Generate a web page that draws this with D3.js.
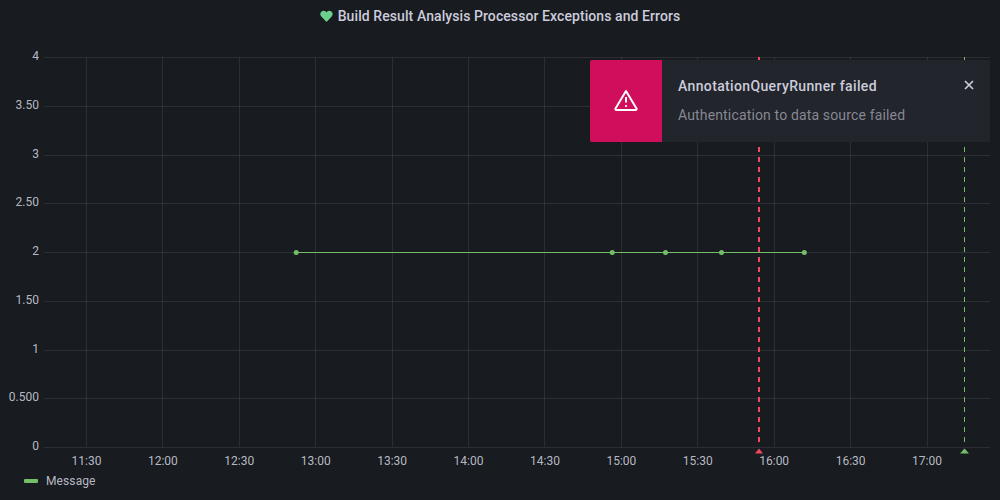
<!DOCTYPE html>
<html><head><meta charset="utf-8">
<script src="https://cdn.jsdelivr.net/npm/d3@7"></script>
<style>
html,body{margin:0;padding:0;background:#181b1f;overflow:hidden}
svg{display:block;font-family:Roboto,sans-serif}
</style></head><body>
<svg id="c" width="1000" height="500"></svg>
<script>
const chartTitle = "Build Result Analysis Processor Exceptions and Errors";
const seriesName = "Message";
const yTicks = [0, 0.5, 1, 1.5, 2, 2.5, 3, 3.5, 4];
const yTickLabels = ["0", "0.500", "1", "1.50", "2", "2.50", "3", "3.50", "4"];
const xTickTimes = ["11:30","12:00","12:30","13:00","13:30","14:00","14:30","15:00","15:30","16:00","16:30","17:00"];
const seriesTimes = ["12:52:20","14:56:25","15:17:20","15:39:20","16:11:50"];
const seriesValues = [2, 2, 2, 2, 2];
const annotationTimes = ["15:54:10","17:14:40"];
const annotationColors = ["#f2495c","#73bf69"];
const toastTitle = "AnnotationQueryRunner failed";
const toastText = "Authentication to data source failed";

const parse = s => { const p = s.split(":").map(Number); return new Date(2021,0,1,p[0],p[1],p[2]||0); };
const svg = d3.select("#c");
const x = d3.scaleTime().domain([parse("11:30"),parse("17:00")]).range([86.5,927]);
const y = d3.scaleLinear().domain([0,4]).range([447.5,57.5]);
const L = 44, R = 990;

svg.append("text").attr("x",509).attr("y",21).attr("text-anchor","middle")
  .attr("font-size",14).attr("font-weight",500).attr("letter-spacing",0.08).attr("fill","#ccccdc").text(chartTitle);
svg.append("path").attr("transform","translate(326.5,16)")
  .attr("d","M0,6 L-5.2,0.6 C-7.4,-2 -5.6,-5.2 -2.8,-5.2 C-1.4,-5.2 -0.5,-4.4 0,-3.5 C0.5,-4.4 1.4,-5.2 2.8,-5.2 C5.6,-5.2 7.4,-2 5.2,0.6 Z")
  .attr("fill","#6ccf8e");

const grid = svg.append("g").attr("stroke","#f0faff").attr("stroke-opacity",0.09).attr("shape-rendering","crispEdges");
grid.selectAll("line.y").data(yTicks).join("line").attr("x1",L).attr("x2",R)
  .attr("y1",d=>y(d)).attr("y2",d=>y(d));
grid.selectAll("line.x").data(xTickTimes).join("line").attr("y1",57).attr("y2",447)
  .attr("x1",d=>x(parse(d))).attr("x2",d=>x(parse(d)));

const tc = "#ccccdc", to = 0.9;
svg.append("g").selectAll("text").data(yTicks).join("text")
  .attr("x",39).attr("y",d=>y(d)+2.5).attr("text-anchor","end").attr("font-size",12)
  .attr("fill",tc).attr("fill-opacity",to).text((d,i)=>yTickLabels[i]);
svg.append("g").selectAll("text").data(xTickTimes).join("text")
  .attr("x",d=>x(parse(d))).attr("y",465).attr("text-anchor","middle").attr("font-size",12)
  .attr("fill",tc).attr("fill-opacity",to).text(d=>d);

const pts = seriesTimes.map((t,i)=>[parse(t),seriesValues[i]]);
svg.append("path").attr("fill","none").attr("stroke","#73bf69").attr("stroke-width",1)
  .attr("d",d3.line().x(d=>x(d[0])).y(d=>y(d[1]))(pts));
svg.append("g").selectAll("circle").data(pts).join("circle")
  .attr("cx",d=>x(d[0])).attr("cy",d=>y(d[1])).attr("r",2.5).attr("fill","#73bf69");

const ann = svg.append("g");
annotationTimes.forEach((t,i)=>{
  const ax = i ? Math.floor(x(parse(t)))+0.5 : Math.round(x(parse(t))), c = annotationColors[i];
  ann.append("line").attr("x1",ax).attr("x2",ax).attr("y1",57).attr("y2",447)
    .attr("stroke",c).attr("stroke-width",i?1:2).attr("stroke-dasharray","5,5");
  const w = i?4.5:4;
  ann.append("path").attr("d",`M${ax-w},453.5 L${ax},448.5 L${ax+w},453.5 Z`).attr("fill",c);
});

svg.append("rect").attr("x",24).attr("y",479).attr("width",14).attr("height",4).attr("rx",1).attr("fill","#73bf69");
svg.append("text").attr("x",46).attr("y",485).attr("font-size",12).attr("letter-spacing",0.1).attr("fill",tc).attr("fill-opacity",to).text(seriesName);

const toast = svg.append("g");
toast.append("rect").attr("x",590).attr("y",60).attr("width",400).attr("height",82).attr("rx",2).attr("fill","#22252b");
toast.append("path").attr("d","M662,60 H592 a2,2 0 0 0 -2,2 V140 a2,2 0 0 0 2,2 H662 Z").attr("fill","#d10e5c");
toast.append("path").attr("d","M626,91 L615.5,108.5 a1,1 0 0 0 1,1.5 H635.5 a1,1 0 0 0 1,-1.5 Z")
  .attr("fill","none").attr("stroke","#fff").attr("stroke-width",2).attr("stroke-linejoin","round");
toast.append("line").attr("x1",626).attr("x2",626).attr("y1",97).attr("y2",102.5).attr("stroke","#fff").attr("stroke-width",2);
toast.append("circle").attr("cx",626).attr("cy",106).attr("r",1.1).attr("fill","#fff");
toast.append("text").attr("x",678).attr("y",91).attr("font-size",14).attr("font-weight",500).attr("letter-spacing",0.36).attr("fill","#ccccdc").text(toastTitle);
toast.append("text").attr("x",678).attr("y",120).attr("font-size",14).attr("letter-spacing",0.15).attr("fill","#ccccdc").attr("fill-opacity",0.6).text(toastText);
toast.append("path").attr("d","M965,81 L973,89 M973,81 L965,89").attr("stroke","#ccccdc").attr("stroke-width",1.7);
</script>
</body></html>
